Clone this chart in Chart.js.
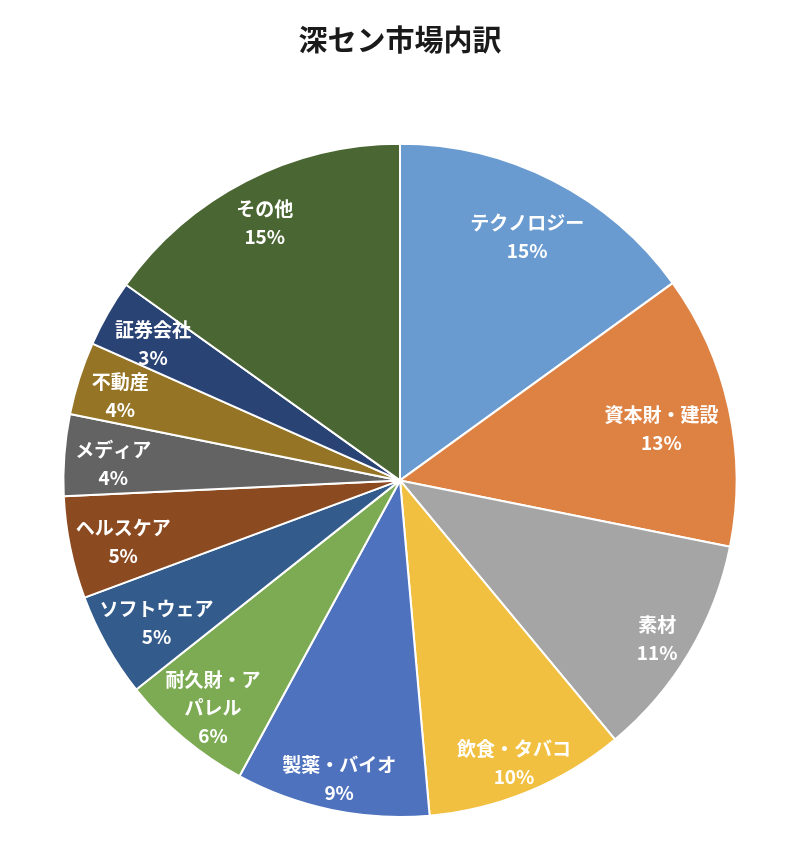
<!DOCTYPE html>
<html>
<head>
<meta charset="utf-8">
<script src="https://cdn.jsdelivr.net/npm/chart.js@4"></script>
<style>
  html, body { margin: 0; padding: 0; background: #fff; }
</style>
</head>
<body>
<canvas id="chart" width="800" height="858"></canvas>
<script>
const categories = ["テクノロジー", "資本財・建設", "素材", "飲食・タバコ", "製薬・バイオ", "耐久財・ア\nパレル",
  "ソフトウェア", "ヘルスケア", "メディア", "不動産", "証券会社", "その他"];
const shares = [15.0, 13.1, 10.8, 9.6, 9.3, 6.4, 5.0, 4.9, 3.9, 3.5, 3.2, 15.1];
const sliceColors = ["#6A9BD0", "#DE8244", "#A5A5A5", "#F2C040", "#4F72BE", "#7DAB53",
  "#335C8C", "#8C4A21", "#636363", "#957425", "#2A4375", "#4A6632"];

const LABEL_FONT = "bold 19px 'Noto Sans CJK JP', 'Noto Sans', sans-serif";
const LINE_H = 28;

// name + percent inside each slice, pushed toward the rim until every text line fits
const sliceLabels = {
  id: 'sliceLabels',
  afterDatasetsDraw(chart) {
    const ctx = chart.ctx;
    const meta = chart.getDatasetMeta(0);
    ctx.save();
    ctx.font = LABEL_FONT;
    ctx.fillStyle = '#fff';
    ctx.textAlign = 'center';
    ctx.textBaseline = 'middle';
    meta.data.forEach((arc, i) => {
      const {startAngle, endAngle, outerRadius} = arc.getProps(['startAngle', 'endAngle', 'outerRadius'], true);
      const lines = categories[i].split('\n').concat([Math.round(shares[i]) + '%']);
      const widths = lines.map(l => ctx.measureText(l).width / 2);
      const mid = (startAngle + endAngle) / 2;
      const ux = Math.cos(mid), uy = Math.sin(mid);
      const limit = outerRadius - 8;
      const offs = lines.map((l, k) => (k - (lines.length - 1) / 2) * LINE_H);
      const fits = (d) => lines.every((l, k) => {
        const fx = Math.abs(ux * d) + widths[k];
        const fy = Math.abs(uy * d + offs[k]) + 8;
        return Math.sqrt(fx * fx + fy * fy) <= limit;
      });
      let d = outerRadius * 0.89;
      while (d > 0 && !fits(d)) d -= 1;
      const cx = arc.x + ux * d, cy = arc.y + uy * d + 5;
      lines.forEach((l, k) => ctx.fillText(l, cx, cy + offs[k]));
    });
    ctx.restore();
  }
};

new Chart(document.getElementById('chart'), {
  type: 'pie',
  data: {
    labels: categories,
    datasets: [{
      data: shares,
      backgroundColor: sliceColors,
      borderColor: '#fff',
      borderWidth: 2
    }]
  },
  options: {
    responsive: false,
    animation: false,
    layout: { padding: { bottom: 40 } },
    plugins: {
      legend: { display: false },
      tooltip: { enabled: false },
      title: {
        display: true,
        text: '深セン市場内訳',
        color: '#1a1a1a',
        font: { size: 29, weight: 'bold', family: "'Noto Sans CJK JP', sans-serif" },
        padding: { top: 23, bottom: 85 }
      }
    }
  },
  plugins: [sliceLabels]
});
</script>
</body>
</html>
